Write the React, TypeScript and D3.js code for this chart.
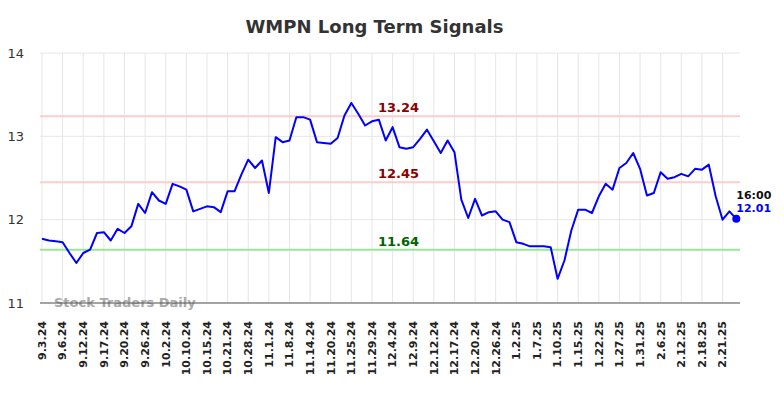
import * as d3 from "d3";
import { useEffect, useRef } from "react";

const tickLabels = [
  "9.3.24", "9.6.24", "9.12.24", "9.17.24", "9.20.24", "9.26.24", "10.2.24",
  "10.10.24", "10.15.24", "10.21.24", "10.28.24", "11.1.24", "11.8.24",
  "11.14.24", "11.20.24", "11.25.24", "11.29.24", "12.4.24", "12.9.24",
  "12.12.24", "12.17.24", "12.20.24", "12.26.24", "1.2.25", "1.7.25",
  "1.10.25", "1.15.25", "1.22.25", "1.27.25", "1.31.25", "2.6.25", "2.12.25",
  "2.18.25", "2.21.25",
];

const prices = [
  11.77, 11.75, 11.74, 11.73, 11.6, 11.48, 11.6, 11.64, 11.84, 11.85,
  11.75, 11.89, 11.84, 11.92, 12.19, 12.08, 12.33, 12.23, 12.19, 12.43,
  12.4, 12.36, 12.1, 12.13, 12.16, 12.15, 12.09, 12.34, 12.34, 12.54,
  12.72, 12.62, 12.71, 12.32, 12.99, 12.93, 12.95, 13.23, 13.23, 13.2,
  12.93, 12.92, 12.91, 12.98, 13.25, 13.4, 13.27, 13.13, 13.18, 13.2,
  12.95, 13.11, 12.87, 12.85, 12.87, 12.97, 13.08, 12.94, 12.8, 12.95,
  12.81, 12.24, 12.02, 12.25, 12.05, 12.09, 12.1, 12.0, 11.97, 11.73,
  11.71, 11.68, 11.68, 11.68, 11.67, 11.29, 11.51, 11.87, 12.12, 12.12,
  12.08, 12.28, 12.43, 12.36, 12.62, 12.68, 12.8, 12.61, 12.29, 12.32,
  12.57, 12.49, 12.51, 12.55, 12.52, 12.61, 12.6, 12.66, 12.28, 12.0,
  12.1, 12.01,
];

const signalLevels = [13.24, 12.45, 11.64];
const yTicks = [11, 12, 13, 14];
const lastTime = "16:00";

function App() {
  const ref = useRef<SVGSVGElement>(null);

  useEffect(() => {
    const width = 784;
    const height = 398;
    const left = 40;
    const right = 740;

    const svg = d3.select(ref.current);
    svg.selectAll("*").remove();
    svg.attr("width", width).attr("height", height);

    const x = d3.scaleLinear().domain([0, prices.length - 1]).range([42, 736.3]);
    const y = d3.scaleLinear().domain([11, 14]).range([303, 53]);

    // grid
    const grid = svg.append("g");
    grid
      .selectAll("line.h")
      .data(yTicks)
      .enter()
      .append("line")
      .attr("x1", left)
      .attr("x2", right)
      .attr("y1", (d) => y(d))
      .attr("y2", (d) => y(d))
      .attr("stroke", "#e6e6e6")
      .attr("stroke-width", 1);
    grid
      .selectAll("line.v")
      .data(tickLabels)
      .enter()
      .append("line")
      .attr("x1", (d, i) => x(i * 3))
      .attr("x2", (d, i) => x(i * 3))
      .attr("y1", y(14))
      .attr("y2", y(11))
      .attr("stroke", "#e6e6e6")
      .attr("stroke-width", 1);

    // y labels
    svg
      .append("g")
      .selectAll("text")
      .data(yTicks)
      .enter()
      .append("text")
      .attr("x", 24)
      .attr("y", (d) => y(d))
      .attr("dy", "0.35em")
      .attr("text-anchor", "end")
      .attr("font-family", "DejaVu Sans")
      .attr("font-size", 13)
      .attr("fill", "#333")
      .text((d) => d);

    // x labels
    svg
      .append("g")
      .selectAll("text")
      .data(tickLabels)
      .enter()
      .append("text")
      .attr("transform", (d, i) => `translate(${x(i * 3)},321) rotate(-90)`)
      .attr("dy", "0.35em")
      .attr("text-anchor", "end")
      .attr("font-family", "DejaVu Sans")
      .attr("font-weight", "bold")
      .attr("font-size", 11)
      .attr("fill", "#222")
      .text((d) => d);

    // watermark
    svg
      .append("text")
      .attr("x", 54)
      .attr("y", 307)
      .attr("font-family", "DejaVu Sans")
      .attr("font-weight", "bold")
      .attr("font-size", 13)
      .attr("fill", "#aaa")
      .text("Stock Traders Daily");

    // signal lines
    const levelColor = ["#ffcccc", "#ffcccc", "#99e699"];
    const labelColor = ["#8b0000", "#8b0000", "#006400"];
    svg
      .append("g")
      .selectAll("line")
      .data(signalLevels)
      .enter()
      .append("line")
      .attr("x1", left)
      .attr("x2", right)
      .attr("y1", (d) => y(d))
      .attr("y2", (d) => y(d))
      .attr("stroke", (d, i) => levelColor[i])
      .attr("stroke-width", 2);

    // axis line
    svg
      .append("line")
      .attr("x1", left)
      .attr("x2", right)
      .attr("y1", y(11))
      .attr("y2", y(11))
      .attr("stroke", "#555")
      .attr("stroke-width", 1);

    // price line
    const line = d3
      .line<number>()
      .x((d, i) => x(i))
      .y((d) => y(d));
    svg
      .append("path")
      .datum(prices)
      .attr("d", line)
      .attr("fill", "none")
      .attr("stroke", "#0000ff")
      .attr("stroke-width", 2)
      .attr("stroke-linejoin", "round");

    // level labels
    svg
      .append("g")
      .selectAll("text")
      .data(signalLevels)
      .enter()
      .append("text")
      .attr("x", x(52) - 1)
      .attr("y", (d) => y(d) - 4)
      .attr("text-anchor", "middle")
      .attr("font-family", "DejaVu Sans")
      .attr("font-weight", "bold")
      .attr("font-size", 13)
      .attr("fill", (d, i) => labelColor[i])
      .text((d) => d.toFixed(2));

    // last point
    const lastIdx = prices.length - 1;
    const last = prices[lastIdx];
    svg
      .append("circle")
      .attr("cx", x(lastIdx))
      .attr("cy", y(last))
      .attr("r", 4)
      .attr("fill", "#0000ff");
    svg
      .append("text")
      .attr("x", x(lastIdx))
      .attr("y", y(last) - 20)
      .attr("font-family", "DejaVu Sans")
      .attr("font-weight", "bold")
      .attr("font-size", 11)
      .attr("fill", "#111")
      .text(lastTime);
    svg
      .append("text")
      .attr("x", x(lastIdx))
      .attr("y", y(last) - 7)
      .attr("font-family", "DejaVu Sans")
      .attr("font-weight", "bold")
      .attr("font-size", 11)
      .attr("fill", "#0000ff")
      .text(last.toFixed(2));

    // title
    svg
      .append("text")
      .attr("x", 374.5)
      .attr("y", 33)
      .attr("text-anchor", "middle")
      .attr("font-family", "DejaVu Sans")
      .attr("font-weight", "bold")
      .attr("font-size", 18)
      .attr("fill", "#333")
      .text("WMPN Long Term Signals");
  }, []);

  return (
    <svg
      ref={ref}
      style={{ position: "absolute", left: 0, top: 0, background: "#fff" }}
    ></svg>
  );
}

export default App;
